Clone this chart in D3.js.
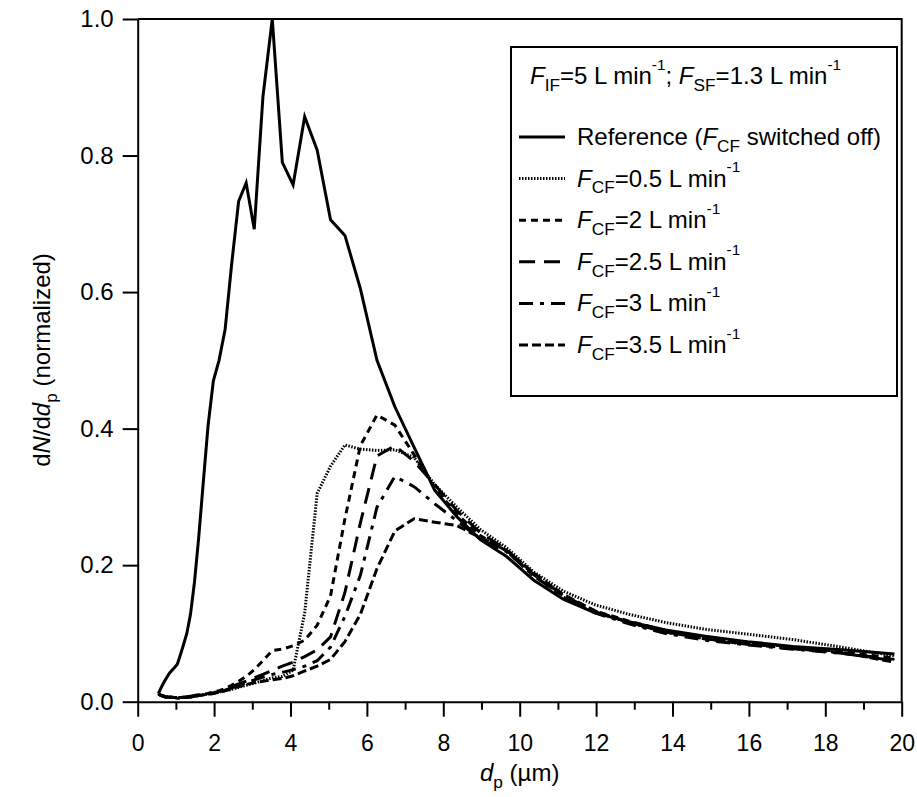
<!DOCTYPE html>
<html>
<head>
<meta charset="utf-8">
<script src="https://cdn.jsdelivr.net/npm/d3@7"></script>
<style>
  html, body { margin: 0; padding: 0; background: #fff; }
  svg { display: block; font-family: "Liberation Sans", Arial, sans-serif; }
</style>
</head>
<body>
<div id="chart"></div>
<script>
// particle diameter bins (µm)
const diameters = [0.542, 0.583, 0.626, 0.673, 0.723, 0.777, 0.835, 0.898, 0.965, 1.037,
  1.114, 1.197, 1.286, 1.382, 1.486, 1.596, 1.715, 1.843, 1.981, 2.129,
  2.288, 2.458, 2.642, 2.839, 3.051, 3.278, 3.523, 3.786, 4.068, 4.371,
  4.698, 5.048, 5.425, 5.829, 6.264, 6.732, 7.234, 7.774, 8.354, 8.977,
  9.647, 10.37, 11.14, 11.97, 12.86, 13.82, 14.86, 15.96, 17.15, 18.43, 19.81];

// reference, FCF switched off
const reference = [0.012, 0.017, 0.022, 0.027, 0.032, 0.037, 0.042, 0.046, 0.050, 0.055,
  0.068, 0.083, 0.100, 0.128, 0.175, 0.240, 0.320, 0.405, 0.470, 0.500,
  0.545, 0.640, 0.733, 0.760, 0.692, 0.886, 1.000, 0.790, 0.757, 0.857,
  0.808, 0.706, 0.683, 0.605, 0.500, 0.432, 0.373, 0.310, 0.271, 0.237,
  0.213, 0.178, 0.150, 0.130, 0.117, 0.105, 0.096, 0.088, 0.081, 0.076, 0.070];

const fcf05 = [0.012, 0.010, 0.009, 0.008, 0.008, 0.007, 0.007, 0.006, 0.006, 0.006,
  0.006, 0.006, 0.007, 0.007, 0.008, 0.009, 0.010, 0.011, 0.012, 0.014,
  0.016, 0.018, 0.021, 0.024, 0.027, 0.031, 0.035, 0.037, 0.046, 0.130,
  0.305, 0.345, 0.376, 0.370, 0.368, 0.369, 0.358, 0.318, 0.285, 0.252,
  0.226, 0.190, 0.162, 0.142, 0.128, 0.116, 0.106, 0.099, 0.091, 0.080, 0.067];

const fcf2 = [0.012, 0.010, 0.009, 0.008, 0.008, 0.007, 0.007, 0.007, 0.006, 0.006,
  0.006, 0.007, 0.007, 0.008, 0.009, 0.010, 0.011, 0.012, 0.014, 0.016,
  0.019, 0.024, 0.030, 0.037, 0.047, 0.060, 0.075, 0.077, 0.082, 0.090,
  0.112, 0.155, 0.268, 0.375, 0.420, 0.405, 0.362, 0.313, 0.275, 0.243,
  0.221, 0.184, 0.155, 0.133, 0.118, 0.104, 0.094, 0.087, 0.080, 0.073, 0.064];

const fcf25 = [0.011, 0.010, 0.009, 0.008, 0.007, 0.007, 0.007, 0.006, 0.006, 0.006,
  0.006, 0.006, 0.007, 0.008, 0.009, 0.010, 0.011, 0.012, 0.013, 0.015,
  0.018, 0.022, 0.026, 0.030, 0.035, 0.040, 0.046, 0.052, 0.058, 0.066,
  0.076, 0.095, 0.160, 0.262, 0.360, 0.375, 0.352, 0.318, 0.280, 0.247,
  0.223, 0.186, 0.156, 0.132, 0.116, 0.102, 0.092, 0.085, 0.078, 0.071, 0.062];

const fcf3 = [0.011, 0.010, 0.009, 0.008, 0.007, 0.007, 0.006, 0.006, 0.006, 0.006,
  0.006, 0.006, 0.007, 0.007, 0.008, 0.009, 0.010, 0.011, 0.012, 0.014,
  0.017, 0.020, 0.024, 0.028, 0.032, 0.036, 0.040, 0.043, 0.047, 0.052,
  0.060, 0.080, 0.125, 0.185, 0.285, 0.330, 0.315, 0.290, 0.265, 0.238,
  0.220, 0.185, 0.153, 0.130, 0.114, 0.100, 0.090, 0.083, 0.077, 0.071, 0.060];

const fcf35 = [0.011, 0.010, 0.009, 0.008, 0.007, 0.007, 0.006, 0.006, 0.006, 0.005,
  0.005, 0.006, 0.006, 0.007, 0.008, 0.009, 0.010, 0.011, 0.012, 0.014,
  0.016, 0.019, 0.022, 0.025, 0.028, 0.030, 0.032, 0.034, 0.038, 0.045,
  0.052, 0.062, 0.088, 0.128, 0.195, 0.250, 0.268, 0.263, 0.258, 0.240,
  0.222, 0.188, 0.157, 0.133, 0.116, 0.102, 0.092, 0.084, 0.078, 0.072, 0.058];

const flowRates = ["0.5", "2", "2.5", "3", "3.5"];
const xTicks = d3.range(0, 21, 1);
const yTicks = [0, 0.2, 0.4, 0.6, 0.8, 1.0];

const width = 917, height = 797;
const margin = {top: 19, right: 15.3, bottom: 95.3, left: 137.7};

const svg = d3.select("#chart").append("svg")
    .attr("width", width)
    .attr("height", height);

const x = d3.scaleLinear().domain([0, 20]).range([margin.left, width - margin.right]);
const y = d3.scaleLinear().domain([0, 1]).range([height - margin.bottom, margin.top]);

// series with their dash styles
const series = [
  {values: reference, dash: null, sw: 3},
  {values: fcf05, dash: "1.5,1.5", sw: 3},
  {values: fcf2, dash: "7,5", sw: 3},
  {values: fcf25, dash: "16,9", sw: 3},
  {values: fcf3, dash: "14,7,4,7", sw: 3},
  {values: fcf35, dash: "9,4", sw: 3}
];

const line = d3.line()
    .x((d, i) => x(diameters[i]))
    .y(d => y(d));

svg.append("g")
    .attr("fill", "none")
    .attr("stroke", "#000")
    .selectAll("path")
    .data(series)
    .join("path")
    .attr("d", d => line(d.values))
    .attr("stroke-width", d => d.sw)
    .attr("stroke-dasharray", d => d.dash);

// frame (top + right)
svg.append("path")
    .attr("d", `M${x(0)},${y(1)}H${x(20)}V${y(0)}`)
    .attr("fill", "none")
    .attr("stroke", "#000")
    .attr("stroke-width", 2);

// x axis: minor ticks then major ticks with labels
svg.append("g")
    .attr("transform", `translate(0,${y(0)})`)
    .call(d3.axisBottom(x).tickValues(xTicks.filter(d => d % 2 === 1)).tickSize(8).tickSizeOuter(0).tickFormat(""))
    .call(g => g.select(".domain").remove());

svg.append("g")
    .attr("transform", `translate(0,${y(0)})`)
    .call(d3.axisBottom(x).tickValues(xTicks.filter(d => d % 2 === 0)).tickSize(15).tickSizeOuter(0).tickPadding(18))
    .call(g => g.selectAll("text").attr("font-size", 23).attr("font-family", null).attr("fill", "#000"));

svg.append("g")
    .attr("transform", `translate(${x(0)},0)`)
    .call(d3.axisLeft(y).tickValues(yTicks).tickSize(15).tickSizeOuter(0).tickPadding(9).tickFormat(d3.format(".1f")))
    .call(g => g.selectAll("text").attr("font-size", 24).attr("font-family", null).attr("fill", "#000"));

svg.selectAll(".domain, .tick line").attr("stroke", "#000").attr("stroke-width", 2);

// rich text helper: parts = [text, style] where style is "", "i", "sub", "sup"
function richText(sel, parts, size) {
  const t = sel.append("text").attr("font-size", size).attr("fill", "#000");
  let shift = 0;
  parts.forEach(([s, st]) => {
    const sp = t.append("tspan").text(s);
    let target = 0;
    if (st === "i") sp.attr("font-style", "italic");
    if (st === "sub") { target = size * 0.28; sp.attr("font-size", size * 0.72); }
    if (st === "sup") { target = -size * 0.6; sp.attr("font-size", size * 0.64); }
    sp.attr("dy", target - shift);
    shift = target;
  });
  return t;
}

// axis titles
richText(svg, [["d", "i"], ["p", "sub"], [" (µm)", ""]], 24)
    .attr("x", (x(0) + x(20)) / 2)
    .attr("y", 781)
    .attr("text-anchor", "middle");

richText(svg, [["d", ""], ["N", "i"], ["/d", ""], ["d", "i"], ["p", "sub"], [" (normalized)", ""]], 24)
    .attr("transform", "translate(50,360) rotate(-90)")
    .attr("text-anchor", "middle");

// legend
const legend = svg.append("g");
legend.append("rect")
    .attr("x", 511).attr("y", 47)
    .attr("width", 386).attr("height", 349)
    .attr("fill", "#fff").attr("stroke", "#000").attr("stroke-width", 2);

richText(legend, [["F", "i"], ["IF", "sub"], ["=5 L min", ""], ["-1", "sup"], ["; ", ""],
  ["F", "i"], ["SF", "sub"], ["=1.3 L min", ""], ["-1", "sup"]], 24)
    .attr("x", 530).attr("y", 84);

const legendRows = [
  [["Reference (", ""], ["F", "i"], ["CF", "sub"], [" switched off)", ""]]
].concat(flowRates.map(r => [["F", "i"], ["CF", "sub"], [`=${r} L min`, ""], ["-1", "sup"]]));

legendRows.forEach((parts, i) => {
  const by = 145 + i * 41.6;
  legend.append("line")
      .attr("x1", 519).attr("x2", 565)
      .attr("y1", by - 8).attr("y2", by - 8)
      .attr("stroke", "#000")
      .attr("stroke-width", series[i].sw)
      .attr("stroke-dasharray", series[i].dash);
  richText(legend, parts, 24).attr("x", 577).attr("y", by);
});
</script>
</body>
</html>
